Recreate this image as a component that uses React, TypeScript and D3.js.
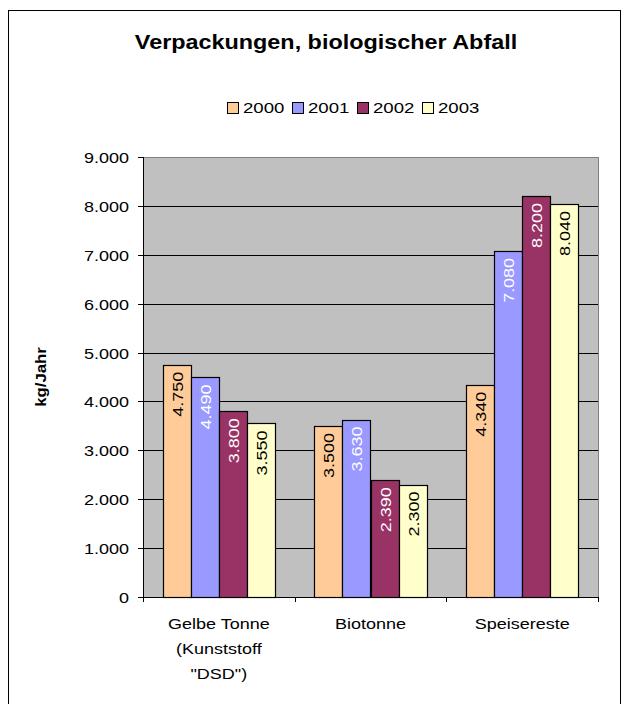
import React from "react";
import * as d3 from "d3";

const categories = [["Gelbe Tonne", "(Kunststoff", "\"DSD\")"], ["Biotonne"], ["Speisereste"]];
const categoryKeys = ["Gelbe Tonne", "Biotonne", "Speisereste"];
const years = ["2000", "2001", "2002", "2003"];
const values2000 = [4750, 3500, 4340];
const values2001 = [4490, 3630, 7080];
const values2002 = [3800, 2390, 8200];
const values2003 = [3550, 2300, 8040];
const yTicks = [0, 1000, 2000, 3000, 4000, 5000, 6000, 7000, 8000, 9000];
const colors = ["#FFCC99", "#9999FF", "#993366", "#FFFFCC"];
const labelColors = ["#000000", "#FFFFFF", "#FFFFFF", "#000000"];

const series = [values2000, values2001, values2002, values2003];

const fmt = (v: number) => {
  if (v === 0) return "0";
  const s = String(v);
  return s.slice(0, s.length - 3) + "." + s.slice(s.length - 3);
};

const SX = 1.2;

function T(props: { x: number; y: number; rot?: number; anchor?: string; size: number; bold?: boolean; fill?: string; children: React.ReactNode }) {
  const { x, y, rot = 0, anchor = "start", size, bold, fill = "#000", children } = props;
  return (
    <text transform={`translate(${x},${y}) rotate(${rot}) scale(${SX},1)`} textAnchor={anchor}
      fontSize={size} fontWeight={bold ? "bold" : "normal"} fill={fill}>{children}</text>
  );
}

export default function App() {
  const W = 629, H = 704;
  const left = 143, right = 598, top = 157, bottom = 597;
  const y = d3.scaleLinear().domain([0, 9000]).range([bottom, top]);
  const x0 = d3.scaleBand().domain(categoryKeys).range([left, right]).paddingInner(0.26).paddingOuter(0.13);
  const x1 = d3.scaleBand().domain(years).range([0, x0.bandwidth()]);
  const font = "'Liberation Sans', Arial, sans-serif";
  const step = (right - left) / categoryKeys.length;

  return (
    <svg width={W} height={H} style={{ position: "absolute", left: 0, top: 0, background: "#fff" }} fontFamily={font}>
      <rect x={8.5} y={10.5} width={612} height={720} fill="#fff" stroke="#000" strokeWidth={1} />
      <T x={326} y={49} anchor="middle" size={19.5} bold>Verpackungen, biologischer Abfall</T>
      {years.map((yr, i) => {
        const lx = 227 + i * 65;
        return (
          <g key={yr}>
            <rect x={lx + 0.5} y={102.5} width={11} height={11} fill={colors[i]} stroke="#000" />
            <T x={lx + 16} y={113} size={15.5}>{yr}</T>
          </g>
        );
      })}
      <rect x={left} y={top} width={right - left} height={bottom - top} fill="#C0C0C0" />
      {yTicks.slice(1).map(t => (
        <line key={t} x1={left} x2={right} y1={Math.round(y(t)) + 0.5} y2={Math.round(y(t)) + 0.5}
          stroke={t === 9000 ? "#808080" : "#000"} strokeWidth={1} />
      ))}
      <line x1={right + 0.5} x2={right + 0.5} y1={top} y2={bottom} stroke="#808080" />
      {categoryKeys.map((c, ci) => (
        <g key={c}>
          {series.map((vals, si) => {
            const bx = (x0(c) as number) + (x1(years[si]) as number);
            const bw = x1.bandwidth();
            const by = y(vals[ci]);
            return (
              <g key={si}>
                <rect x={Math.round(bx) + 0.5} y={Math.round(by) + 0.5} width={Math.round(bw)} height={bottom - Math.round(by)}
                  fill={colors[si]} stroke="#000" strokeWidth={1.2} />
                <T x={bx + bw / 2 + 6} y={by + 7} rot={-90} anchor="end" size={15} fill={labelColors[si]}>{fmt(vals[ci])}</T>
              </g>
            );
          })}
        </g>
      ))}
      <line x1={left + 0.5} x2={left + 0.5} y1={top} y2={bottom + 5} stroke="#000" />
      <line x1={left} x2={right + 1} y1={bottom + 0.5} y2={bottom + 0.5} stroke="#000" />
      {yTicks.map(t => (
        <g key={t}>
          <line x1={left - 5} x2={left} y1={Math.round(y(t)) + 0.5} y2={Math.round(y(t)) + 0.5} stroke="#000" />
          <T x={left - 14} y={y(t) + 6} anchor="end" size={15}>{fmt(t)}</T>
        </g>
      ))}
      {[0, 1, 2, 3].map(i => (
        <line key={i} x1={Math.round(left + i * step) + 0.5} x2={Math.round(left + i * step) + 0.5}
          y1={bottom} y2={bottom + 5} stroke="#000" />
      ))}
      {categories.map((lines, ci) => {
        const cx = (x0(categoryKeys[ci]) as number) + x0.bandwidth() / 2;
        return (
          <g key={ci}>
            {lines.map((l, li) => (
              <T key={li} x={cx} y={629 + li * 25} anchor="middle" size={15}>{l}</T>
            ))}
          </g>
        );
      })}
      <T x={46} y={377} rot={-90} anchor="middle" size={14} bold>kg/Jahr</T>
    </svg>
  );
}
